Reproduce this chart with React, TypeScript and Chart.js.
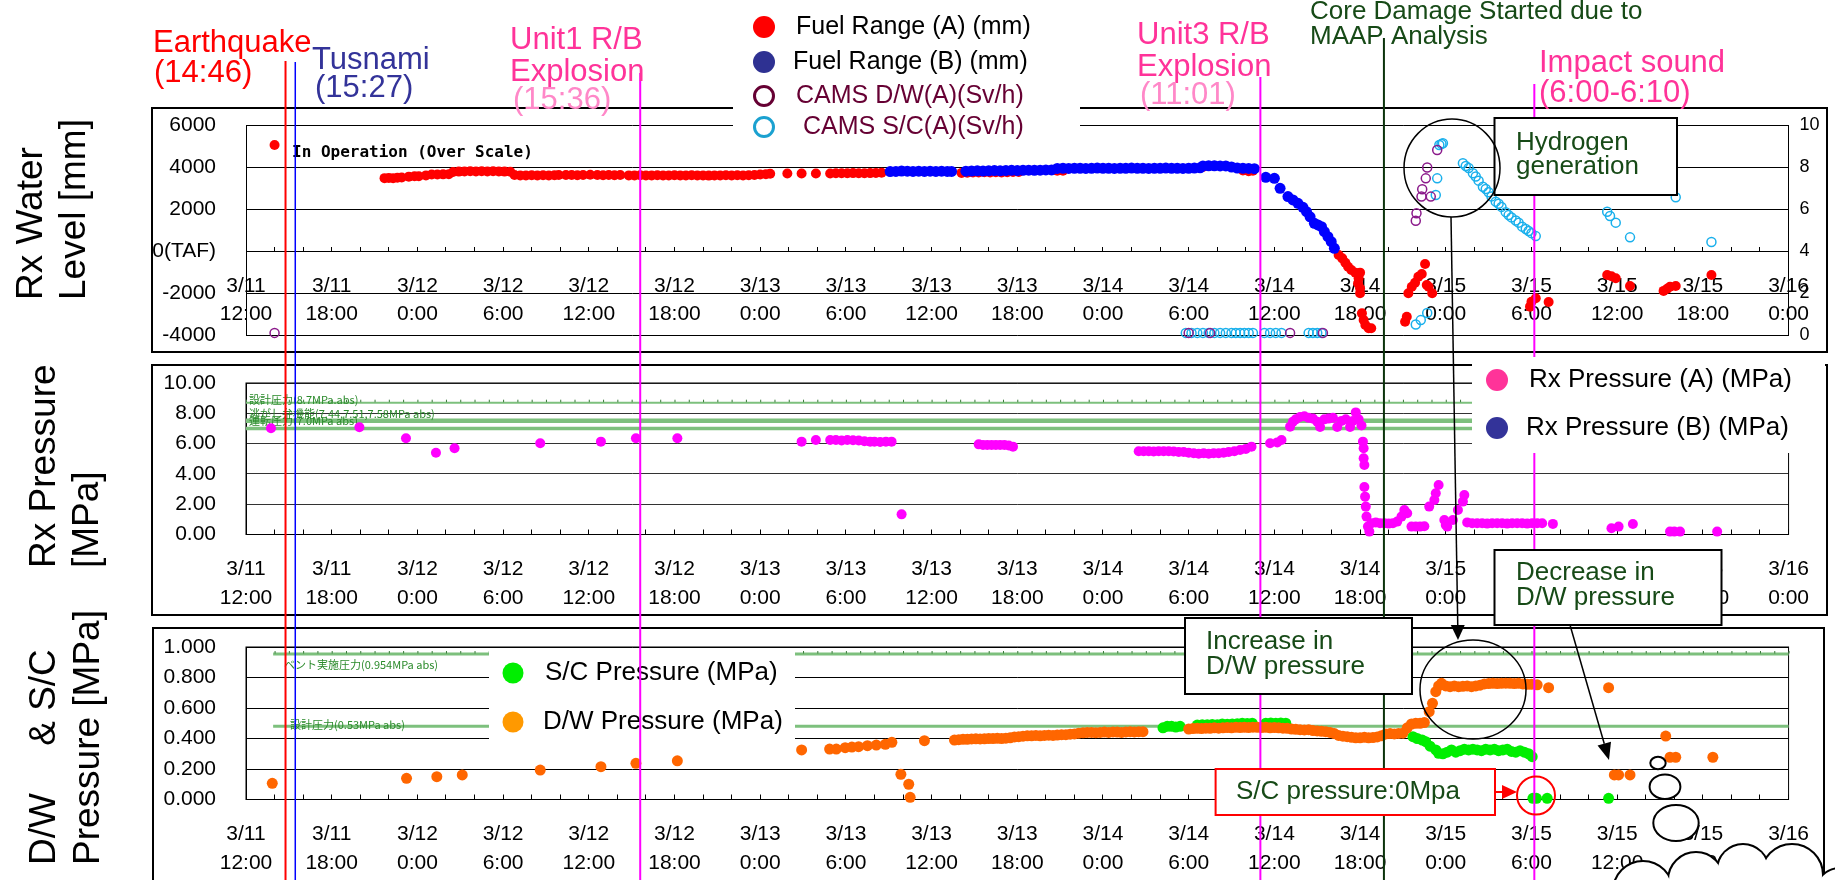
import React, { useEffect, useRef } from 'react';
import { Chart, registerables } from 'chart.js';

Chart.register(...registerables);

const W = 1835;
const H = 880;
const FONT = "'Liberation Sans', Arial, Helvetica, sans-serif";
const JP = "'Noto Sans CJK JP', 'Noto Sans CJK SC', sans-serif";
const MONO = "'DejaVu Sans Mono', 'Liberation Mono', monospace";

// x axis: hours elapsed since 3/11 12:00
const X_MIN = 0;
const X_MAX = 108;
const tickDates = ['3/11', '3/11', '3/12', '3/12', '3/12', '3/12', '3/13', '3/13', '3/13', '3/13', '3/14', '3/14', '3/14', '3/14', '3/15', '3/15', '3/15', '3/15', '3/16'];
const tickTimes = ['12:00', '18:00', '0:00', '6:00', '12:00', '18:00', '0:00', '6:00', '12:00', '18:00', '0:00', '6:00', '12:00', '18:00', '0:00', '6:00', '12:00', '18:00', '0:00'];

// events (hours since 3/11 12:00)
const eventTimes = [2.767, 3.45, 27.6, 71.02, 79.67, 90.2];
const eventColors = ['#ff0000', '#0000ff', '#ff00ff', '#ff00ff', '#0b330b', '#ff00ff'];
const eventWidths = [2, 1.5, 2, 2, 2, 2];
const eventLineTop = [61, 62, 73, 77, 38, 84];

// Rx water level, fuel range A (mm)  [t, value]
const fuelA: number[][] = [
  [2.0, 5050],
  [9.7, 3470], [10.0, 3480], [10.3, 3470], [10.6, 3490], [10.9, 3500],
  [11.4, 3540], [11.8, 3560], [12.1, 3560],
  [12.6, 3600], [13.0, 3640], [13.4, 3640], [13.8, 3650], [14.2, 3660],
  [14.5, 3760], [14.9, 3780], [15.3, 3790], [15.7, 3800], [16.1, 3790], [16.5, 3800], [16.9, 3790], [17.3, 3800], [17.7, 3790], [18.1, 3780], [18.5, 3770],
  [18.8, 3620], [19.2, 3600], [19.6, 3600], [20.0, 3610], [20.4, 3600], [20.8, 3610], [21.2, 3600], [21.6, 3610], [21.9, 3620],
  [22.4, 3620], [22.8, 3620], [23.2, 3610], [23.6, 3620], [24.1, 3630], [24.6, 3620], [25.0, 3610], [25.4, 3620], [25.8, 3610], [26.2, 3620],
  [26.8, 3600], [27.2, 3600], [27.6, 3610], [28.0, 3600], [28.4, 3600], [28.8, 3610], [29.2, 3600], [29.6, 3600], [30.0, 3610], [30.4, 3600], [30.8, 3600], [31.2, 3610], [31.6, 3600],
  [32.0, 3600], [32.4, 3590], [32.8, 3600], [33.2, 3600], [33.6, 3610], [34.0, 3600], [34.4, 3610], [34.8, 3600], [35.2, 3610], [35.6, 3620], [36.0, 3640], [36.4, 3660], [36.7, 3680],
  [37.9, 3690], [38.9, 3690], [39.9, 3690],
  [40.9, 3690], [41.3, 3700], [41.7, 3700], [42.1, 3700], [42.5, 3710], [42.9, 3700], [43.3, 3700], [43.7, 3710], [44.1, 3720], [44.5, 3730],
  [50.1, 3720], [50.5, 3730], [50.9, 3740], [51.3, 3740], [51.7, 3750], [52.1, 3740], [52.5, 3750], [52.9, 3740], [53.3, 3750], [53.7, 3760], [54.1, 3760],
  [56.8, 3820], [57.2, 3820], [67.0, 4000], [69.8, 3830], [70.2, 3800], [70.5, 3820],
  [76.5, -190], [76.75, -350], [76.97, -560], [77.16, -750], [77.39, -905], [77.67, -1030], [78.0, -1030], [77.9, -1300], [77.86, -1540], [78.0, -1775], [78.0, -2015],
  [78.13, -2970], [78.25, -3285], [78.37, -3525], [78.6, -3680], [78.78, -3680],
  [81.15, -3365], [81.27, -3130], [81.38, -2015], [81.62, -1700], [81.85, -1510], [82.08, -1225], [82.32, -1095], [82.55, -620], [82.67, -1620], [82.8, -1700], [83.05, -2015],
  [89.9, -2650], [90.0, -2420], [90.3, -2250], [91.2, -2430],
  [95.3, -1140], [95.6, -1200], [95.9, -1300], [96.9, -1670], [99.25, -1900], [99.5, -1800], [99.7, -1700], [100.1, -1670], [102.6, -1140],
];

// Rx water level, fuel range B (mm)
const fuelB: number[][] = [
  [45.1, 3780], [45.5, 3790], [45.9, 3810], [46.3, 3800], [46.7, 3790], [47.1, 3800], [47.5, 3790], [47.9, 3800], [48.3, 3790], [48.7, 3800], [49.1, 3790], [49.4, 3790],
  [50.4, 3800], [50.8, 3810], [51.2, 3820], [51.6, 3810], [52.0, 3820], [52.4, 3830], [52.8, 3820], [53.2, 3830], [53.6, 3840], [54.0, 3830], [54.4, 3840], [54.8, 3850], [55.2, 3840], [55.6, 3850], [56.0, 3860], [56.4, 3860],
  [56.8, 3930], [57.2, 3940], [57.6, 3930], [58.0, 3940], [58.4, 3940], [58.8, 3930], [59.2, 3940], [59.6, 3950], [60.0, 3940], [60.4, 3940], [60.8, 3930], [61.2, 3940], [61.6, 3940],
  [62.0, 3950], [62.4, 3940], [62.8, 3940], [63.2, 3930], [63.6, 3940], [64.0, 3940], [64.4, 3950], [64.8, 3940], [65.2, 3940], [65.6, 3930], [66.0, 3940], [66.4, 3950], [66.8, 3960],
  [67.0, 4050], [67.4, 4060], [67.8, 4060], [68.2, 4050], [68.6, 4050], [69.0, 4000],
  [69.4, 3950], [69.8, 3940], [70.2, 3930], [70.6, 3920],
  [71.4, 3510], [72.0, 3460], [72.4, 2985], [72.95, 2590], [73.3, 2430], [73.65, 2270], [74.0, 2080], [74.25, 1870], [74.5, 1630], [74.8, 1320],
  [75.05, 1240], [75.3, 1160], [75.5, 920], [75.75, 680], [75.98, 445], [76.2, 130],
];

// CAMS D/W (A) (Sv/h)
const camsDW: number[][] = [
  [2.0, 0.1], [66.0, 0.1], [67.5, 0.1], [73.1, 0.1], [75.4, 0.1],
  [81.9, 5.44], [81.95, 5.8], [82.3, 6.59], [82.35, 6.94], [82.6, 7.46], [82.7, 7.98], [82.95, 6.59], [83.4, 8.81],
];

// CAMS S/C (A) (Sv/h)
const camsSC: number[][] = [
  [65.8, 0.1], [66.2, 0.1], [66.6, 0.1], [67.0, 0.1], [67.4, 0.1], [67.8, 0.1], [68.2, 0.1], [68.6, 0.1], [69.0, 0.1], [69.3, 0.1], [69.6, 0.1], [69.9, 0.1], [70.2, 0.1], [70.5, 0.1],
  [71.3, 0.1], [71.7, 0.1], [72.1, 0.1], [72.5, 0.1],
  [74.4, 0.1], [74.7, 0.1], [75.0, 0.1], [75.3, 0.1],
  [81.9, 0.5], [82.25, 0.71], [82.7, 1.05],
  [83.3, 6.67], [83.4, 7.46], [83.55, 9.05], [83.7, 9.1], [83.8, 9.13],
  [85.2, 8.18], [85.4, 8.05], [85.6, 7.95], [85.9, 7.7], [86.1, 7.55], [86.3, 7.35], [86.6, 7.06], [86.8, 6.95], [87.0, 6.8], [87.2, 6.6], [87.5, 6.35], [87.7, 6.25],
  [87.9, 6.1], [88.2, 5.85], [88.4, 5.71], [88.6, 5.6], [88.9, 5.45], [89.1, 5.35], [89.35, 5.16], [89.6, 5.05], [89.8, 4.95], [90.0, 4.85], [90.3, 4.71],
  [95.3, 5.87], [95.5, 5.67], [95.9, 5.35], [96.9, 4.65], [100.1, 6.56], [102.6, 4.43],
];

// Rx pressure (A) (MPa)
const rxA: number[][] = [
  [1.75, 7.01], [7.94, 7.08], [11.2, 6.35], [13.3, 5.4], [14.6, 5.69], [20.6, 6.02], [24.85, 6.13], [27.3, 6.35], [30.2, 6.35],
  [38.9, 6.13], [39.9, 6.24],
  [40.9, 6.24], [41.3, 6.24], [41.7, 6.2], [42.1, 6.24], [42.5, 6.22], [42.9, 6.2], [43.3, 6.15], [43.7, 6.13], [44.0, 6.13], [44.4, 6.1], [44.8, 6.13], [45.2, 6.13],
  [45.9, 1.33],
  [51.3, 5.95], [51.6, 5.91], [51.9, 5.91], [52.2, 5.91], [52.5, 5.91], [52.8, 5.91], [53.1, 5.91], [53.4, 5.88], [53.7, 5.8],
  [62.5, 5.5], [62.85, 5.5], [63.2, 5.5], [63.55, 5.48], [63.9, 5.5], [64.25, 5.5], [64.6, 5.5], [64.95, 5.48], [65.3, 5.45], [65.65, 5.45],
  [66.0, 5.4], [66.35, 5.36], [66.7, 5.33], [67.05, 5.36], [67.4, 5.33], [67.75, 5.36], [68.1, 5.36], [68.45, 5.4], [68.8, 5.45],
  [69.2, 5.5], [69.6, 5.58], [70.0, 5.65], [70.4, 5.8],
  [71.7, 6.02], [72.2, 6.08], [72.5, 6.24],
  [73.1, 7.12], [73.3, 7.45], [73.5, 7.6], [73.8, 7.75], [74.1, 7.8], [74.4, 7.7], [74.7, 7.65], [75.0, 7.45], [75.2, 7.1], [75.5, 7.6], [75.8, 7.65], [76.1, 7.7],
  [76.4, 7.1], [76.7, 7.5], [77.0, 7.6], [77.3, 7.1], [77.5, 7.5], [77.7, 8.06], [77.9, 7.6], [78.1, 7.2],
  [78.2, 6.13], [78.25, 5.69], [78.25, 5.03], [78.3, 4.59], [78.3, 3.14], [78.35, 2.5], [78.4, 1.84], [78.45, 1.18], [78.55, 0.52], [78.65, 0.19],
  [78.8, 0.74], [79.1, 0.8], [79.4, 0.74], [79.7, 0.74], [80.0, 0.72], [80.3, 0.74], [80.6, 0.85], [80.9, 1.18], [81.1, 1.62], [81.3, 1.4],
  [81.6, 0.52], [81.9, 0.52], [82.2, 0.52], [82.5, 0.55], [82.84, 1.84], [83.2, 2.28], [83.3, 2.72], [83.5, 3.27], [83.9, 0.96], [84.0, 0.63], [84.1, 0.52],
  [84.5, 0.96], [84.85, 1.62], [85.2, 2.17], [85.3, 2.61],
  [85.5, 0.8], [85.85, 0.74], [86.2, 0.74], [86.55, 0.74], [86.9, 0.72], [87.25, 0.74], [87.6, 0.74], [87.95, 0.74], [88.3, 0.72], [88.65, 0.74],
  [89.0, 0.74], [89.35, 0.74], [89.7, 0.72], [90.05, 0.74], [90.4, 0.74], [90.75, 0.74],
  [91.5, 0.7], [95.6, 0.41], [96.1, 0.52], [97.1, 0.69], [99.7, 0.19], [100.0, 0.19], [100.4, 0.19], [103.0, 0.19],
];

// D/W pressure (MPa)
const dwP: number[][] = [
  [1.84, 0.106], [11.24, 0.139], [13.36, 0.15], [15.14, 0.161], [20.6, 0.193], [24.85, 0.215], [27.3, 0.237], [30.2, 0.254], [38.9, 0.325],
  [40.86, 0.331], [41.33, 0.331], [41.95, 0.34], [42.42, 0.344], [42.89, 0.346], [43.51, 0.353], [44.13, 0.357], [44.76, 0.362], [45.22, 0.375],
  [45.85, 0.165], [46.4, 0.1], [46.5, 0.014],
  [47.5, 0.386],
  [49.6, 0.39], [49.9, 0.392], [50.2, 0.395], [50.5, 0.395], [50.8, 0.397], [51.1, 0.398], [51.4, 0.397], [51.7, 0.398], [52.0, 0.4], [52.3, 0.4], [52.6, 0.401], [52.9, 0.4], [53.2, 0.402], [53.5, 0.405],
  [53.8, 0.41], [54.1, 0.412], [54.4, 0.415], [54.7, 0.418], [55.0, 0.418], [55.3, 0.42], [55.6, 0.418], [55.9, 0.42], [56.2, 0.422], [56.5, 0.42], [56.8, 0.423], [57.1, 0.425], [57.4, 0.425], [57.7, 0.428], [58.0, 0.43],
  [58.3, 0.435], [58.6, 0.437], [58.9, 0.44], [59.2, 0.44], [59.5, 0.438], [59.8, 0.44], [60.1, 0.442], [60.4, 0.44], [60.7, 0.443], [61.0, 0.442], [61.3, 0.44], [61.6, 0.443], [61.9, 0.445], [62.2, 0.443], [62.5, 0.445], [62.8, 0.445],
  [66.0, 0.462], [66.3, 0.465], [66.6, 0.467], [66.9, 0.465], [67.2, 0.468], [67.5, 0.467], [67.8, 0.47], [68.1, 0.468], [68.4, 0.47], [68.7, 0.472], [69.0, 0.47], [69.3, 0.473], [69.6, 0.472], [69.9, 0.473], [70.2, 0.472], [70.5, 0.474],
  [70.8, 0.473], [71.1, 0.472], [71.4, 0.473], [71.7, 0.47], [72.0, 0.472], [72.3, 0.47], [72.6, 0.468], [72.9, 0.467], [73.2, 0.462], [73.5, 0.46], [73.8, 0.458], [74.1, 0.456], [74.4, 0.458], [74.7, 0.452], [75.0, 0.45], [75.3, 0.447], [75.6, 0.445], [75.9, 0.44], [76.2, 0.432],
  [76.5, 0.42], [76.8, 0.415], [77.1, 0.412], [77.4, 0.408], [77.7, 0.405], [78.0, 0.405], [78.3, 0.408], [78.6, 0.405], [78.9, 0.406], [79.2, 0.41], [79.5, 0.418], [79.8, 0.43], [80.1, 0.432], [80.4, 0.43], [80.7, 0.433], [81.0, 0.435],
  [81.3, 0.47], [81.6, 0.495], [81.9, 0.5], [82.2, 0.5], [82.5, 0.505],
  [82.84, 0.576], [83.07, 0.631], [83.3, 0.707], [83.5, 0.745], [83.7, 0.762],
  [84.0, 0.745], [84.3, 0.74], [84.6, 0.745], [84.9, 0.74], [85.2, 0.742], [85.5, 0.745], [85.8, 0.74], [86.1, 0.745], [86.4, 0.75], [86.7, 0.758], [87.0, 0.76], [87.3, 0.762],
  [87.6, 0.76], [87.9, 0.762], [88.2, 0.763], [88.5, 0.762], [88.8, 0.76], [89.1, 0.762], [89.4, 0.758], [89.7, 0.755], [90.0, 0.755], [90.4, 0.752],
  [91.2, 0.733], [95.4, 0.733], [95.8, 0.161], [96.1, 0.161], [96.9, 0.161], [99.4, 0.416], [99.7, 0.277], [100.1, 0.277], [102.7, 0.277],
];

// S/C pressure (MPa)
const scP: number[][] = [
  [64.2, 0.47], [64.5, 0.48], [64.8, 0.48], [65.1, 0.475], [65.4, 0.48],
  [66.6, 0.488], [66.95, 0.49], [67.3, 0.49], [67.65, 0.492], [68.0, 0.49], [68.35, 0.495], [68.7, 0.493], [69.05, 0.495], [69.4, 0.497], [69.75, 0.5], [70.1, 0.498], [70.45, 0.5],
  [71.4, 0.5], [71.75, 0.502], [72.1, 0.5], [72.45, 0.502], [72.8, 0.5],
  [81.7, 0.412], [82.0, 0.4], [82.35, 0.39], [82.6, 0.379], [82.9, 0.35], [83.3, 0.325], [83.5, 0.303], [83.8, 0.3], [84.1, 0.31], [84.4, 0.325], [84.7, 0.31], [85.0, 0.32],
  [85.3, 0.33], [85.6, 0.325], [85.9, 0.33], [86.2, 0.325], [86.5, 0.32], [86.8, 0.33], [87.1, 0.325], [87.4, 0.33], [87.7, 0.32], [88.0, 0.325], [88.3, 0.33], [88.6, 0.315],
  [88.9, 0.31], [89.2, 0.32], [89.5, 0.31], [89.8, 0.3], [90.05, 0.281],
  [90.1, 0.008], [90.35, 0.008], [91.1, 0.008], [95.4, 0.008],
];

// reference pressure lines
const midRefValues = [8.7, 7.44, 7.51, 7.58, 7.0];
const midRefWidths = [2, 2.5, 2.5, 2.5, 3.5];
const midRefLabels = ['設計圧力(8.7MPa.abs)', '逃がし弁機能(7.44,7.51,7.58MPa abs)', '運転圧力(7.0MPa abs)'];
const botRefValues = [0.954, 0.48];
const botRefLabels = ['ベント実施圧力(0.954MPa abs)', '設計圧力(0.53MPa abs)'];

const PLOT_LEFT = 246;
const PLOT_RIGHT = 1795;
const X_AXIS_H = 80;

const xTickValues: number[] = [];
for (let h = X_MIN; h <= X_MAX; h += 2) xTickValues.push(h);

const toXY = (arr: number[][]) => arr.map(([x, y]) => ({ x, y }));

function xAxis(position: any, fitHeight: number) {
  return {
    type: 'linear',
    min: X_MIN,
    max: X_MAX,
    position,
    afterBuildTicks: (s: any) => { s.ticks = xTickValues.map((v) => ({ value: v })); },
    grid: { drawOnChartArea: false, drawTicks: true, tickLength: -5, tickColor: '#000', tickWidth: 1, color: '#000' },
    border: { display: true, color: '#000', width: 1 },
    ticks: {
      autoSkip: false,
      maxRotation: 0,
      minRotation: 0,
      padding: 26,
      color: '#000',
      font: { family: FONT, size: 21, lineHeight: 1.35 },
      callback: (v: any) => {
        const h = Math.round(Number(v));
        if (h % 6 !== 0) return '';
        const k = h / 6;
        return [tickDates[k], tickTimes[k]];
      },
    },
    afterFit: (s: any) => { s.height = fitHeight; },
  };
}

function yAxis(min: number, max: number, step: number, fmt: (v: number) => string, gridColor: string) {
  return {
    type: 'linear',
    position: 'left',
    min,
    max,
    ticks: { stepSize: step, padding: 30, color: '#000', font: { family: FONT, size: 21 }, callback: (v: any) => fmt(Number(v)) },
    grid: { color: gridColor, lineWidth: 1, drawTicks: false },
    border: { display: true, color: '#000', width: 1 },
    afterFit: (s: any) => { s.width = PLOT_LEFT; },
  };
}

function outerBox(x: number, y: number, w: number, h: number) {
  return (chart: any) => {
    const ctx = chart.ctx;
    ctx.save();
    ctx.strokeStyle = '#000';
    ctx.lineWidth = 2;
    ctx.strokeRect(x, y, w, h);
    ctx.restore();
  };
}

function plotBorder(chart: any) {
  const { ctx, chartArea: a } = chart;
  ctx.save();
  ctx.strokeStyle = '#000';
  ctx.lineWidth = 1;
  ctx.strokeRect(a.left, a.top, a.right - a.left, a.bottom - a.top);
  ctx.restore();
}

function refLine(chart: any, value: number, width: number, fromHour: number) {
  const { ctx } = chart;
  const xs = chart.scales.x;
  const ys = chart.scales.y;
  const y = ys.getPixelForValue(value);
  const x0 = xs.getPixelForValue(fromHour);
  const x1 = xs.getPixelForValue(X_MAX);
  ctx.save();
  ctx.strokeStyle = 'rgb(125,192,125)';
  ctx.lineWidth = width;
  ctx.beginPath();
  ctx.moveTo(x0, y);
  ctx.lineTo(x1, y);
  ctx.stroke();
  ctx.restore();
}

function refTicks(chart: any, value: number, fromHour: number) {
  const { ctx } = chart;
  const xs = chart.scales.x;
  const y = chart.scales.y.getPixelForValue(value);
  ctx.save();
  ctx.strokeStyle = '#3a7a3a';
  ctx.lineWidth = 1;
  ctx.beginPath();
  for (let h = Math.ceil(fromHour); h <= X_MAX; h += 1) {
    const x = xs.getPixelForValue(h) + 0.5;
    ctx.moveTo(x, y - 3);
    ctx.lineTo(x, y - 0.5);
  }
  ctx.stroke();
  ctx.restore();
}

function smallText(ctx: CanvasRenderingContext2D, s: string, x: number, y: number) {
  ctx.save();
  ctx.font = `11px ${JP}`;
  ctx.fillStyle = '#2a8a2a';
  ctx.textAlign = 'left';
  ctx.textBaseline = 'alphabetic';
  ctx.fillText(s, x, y);
  ctx.restore();
}

function baseOptions(padding: any, scales: any) {
  return {
    responsive: false,
    maintainAspectRatio: false,
    animation: false,
    devicePixelRatio: 1,
    events: [],
    layout: { padding },
    plugins: { legend: { display: false }, tooltip: { enabled: false }, title: { display: false } },
    scales,
  };
}

function topConfig(): any {
  return {
    type: 'scatter',
    data: {
      datasets: [
        { label: 'CAMS D/W(A)(Sv/h)', data: toXY(camsDW), yAxisID: 'y2', pointRadius: 4.5, pointBackgroundColor: 'rgba(0,0,0,0)', pointBorderColor: '#8b1a8b', pointBorderWidth: 1.5, order: -1, clip: false },
        { label: 'CAMS S/C(A)(Sv/h)', data: toXY(camsSC), yAxisID: 'y2', pointRadius: 4.5, pointBackgroundColor: 'rgba(0,0,0,0)', pointBorderColor: '#1ab0ec', pointBorderWidth: 1.5, order: 0, clip: false },
        { label: 'Fuel Range (B) (mm)', data: toXY(fuelB), yAxisID: 'y', pointRadius: 5.5, pointBackgroundColor: '#0000ff', pointBorderWidth: 0, order: 1, clip: false },
        { label: 'Fuel Range (A) (mm)', data: toXY(fuelA), yAxisID: 'y', pointRadius: 5, pointBackgroundColor: '#ff0000', pointBorderWidth: 0, order: 2, clip: false },
      ],
    },
    options: baseOptions(
      { left: 0, right: 0, top: 125, bottom: H - 335 },
      {
        x: xAxis({ y: 0 }, 0),
        y: yAxis(-4000, 6000, 2000, (v) => (v === 0 ? '0(TAF)' : String(v)), '#000'),
        y2: {
          type: 'linear',
          position: 'right',
          min: 0,
          max: 10,
          ticks: { stepSize: 2, padding: 11, color: '#000', font: { family: FONT, size: 18 } },
          grid: { drawOnChartArea: false, drawTicks: false },
          border: { display: true, color: '#000', width: 1 },
          afterFit: (s: any) => { s.width = W - PLOT_RIGHT; },
        },
      }
    ),
    plugins: [
      {
        id: 'topDecor',
        beforeDraw: outerBox(152, 108, 1675, 244),
        afterDatasetsDraw: (chart: any) => {
          const ctx = chart.ctx;
          ctx.save();
          ctx.font = `bold 16px ${MONO}`;
          ctx.fillStyle = '#000';
          ctx.textBaseline = 'middle';
          ctx.fillText('In Operation (Over Scale)', 292, 153);
          ctx.restore();
        },
      },
    ],
  };
}

function midConfig(): any {
  return {
    type: 'scatter',
    data: {
      datasets: [
        { label: 'Rx Pressure (A) (MPa)', data: toXY(rxA), pointRadius: 5, pointBackgroundColor: '#ff00ff', pointBorderWidth: 0, clip: false },
      ],
    },
    options: baseOptions(
      { left: 0, right: W - PLOT_RIGHT, top: 383, bottom: H - 534.5 - X_AXIS_H },
      {
        x: xAxis('bottom', X_AXIS_H),
        y: yAxis(0, 10, 2, (v) => v.toFixed(2), '#333'),
      }
    ),
    plugins: [
      {
        id: 'midDecor',
        beforeDraw: outerBox(152, 365, 1675, 250),
        beforeDatasetsDraw: (chart: any) => {
          plotBorder(chart);
          midRefValues.forEach((v, i) => refLine(chart, v, midRefWidths[i], X_MIN));
          refTicks(chart, midRefValues[0], X_MIN);
          const ys = chart.scales.y;
          const x = chart.chartArea.left + 3;
          smallText(chart.ctx, midRefLabels[0], x, ys.getPixelForValue(midRefValues[0]) + 1);
          smallText(chart.ctx, midRefLabels[1], x, ys.getPixelForValue(midRefValues[3]) - 2);
          smallText(chart.ctx, midRefLabels[2], x, ys.getPixelForValue(midRefValues[4]) - 3);
        },
      },
    ],
  };
}

function botConfig(): any {
  return {
    type: 'scatter',
    data: {
      datasets: [
        { label: 'D/W Pressure (MPa)', data: toXY(dwP), pointRadius: 5.5, pointBackgroundColor: '#ff6600', pointBorderWidth: 0, order: 1, clip: false },
        { label: 'S/C Pressure (MPa)', data: toXY(scP), pointRadius: 5.5, pointBackgroundColor: '#00ee00', pointBorderWidth: 0, order: 2, clip: false },
      ],
    },
    options: baseOptions(
      { left: 0, right: W - PLOT_RIGHT, top: 647, bottom: H - 799.5 - X_AXIS_H },
      {
        x: xAxis('bottom', X_AXIS_H),
        y: yAxis(0, 1, 0.2, (v) => v.toFixed(3), '#000'),
      }
    ),
    plugins: [
      {
        id: 'botDecor',
        beforeDraw: outerBox(153, 628, 1671, 262),
        beforeDatasetsDraw: (chart: any) => {
          plotBorder(chart);
          botRefValues.forEach((v) => refLine(chart, v, 3, 1.9));
          refTicks(chart, botRefValues[0], 1.9);
          const ys = chart.scales.y;
          smallText(chart.ctx, botRefLabels[0], 284, ys.getPixelForValue(botRefValues[0]) + 15);
          smallText(chart.ctx, botRefLabels[1], 290, ys.getPixelForValue(botRefValues[1]) + 3);
        },
      },
    ],
  };
}

// ---------- overlay drawing helpers ----------
function txt(ctx: CanvasRenderingContext2D, s: string, x: number, y: number, size: number, color: string, family = FONT) {
  ctx.font = `${size}px ${family}`;
  ctx.fillStyle = color;
  ctx.textAlign = 'left';
  ctx.textBaseline = 'middle';
  ctx.fillText(s, x, y);
}

function dot(ctx: CanvasRenderingContext2D, x: number, y: number, r: number, color: string) {
  ctx.beginPath();
  ctx.arc(x, y, r, 0, Math.PI * 2);
  ctx.fillStyle = color;
  ctx.fill();
}

function ring(ctx: CanvasRenderingContext2D, x: number, y: number, r: number, color: string, lw: number) {
  ctx.beginPath();
  ctx.arc(x, y, r, 0, Math.PI * 2);
  ctx.strokeStyle = color;
  ctx.lineWidth = lw;
  ctx.stroke();
}

function whiteRect(ctx: CanvasRenderingContext2D, x: number, y: number, w: number, h: number) {
  ctx.fillStyle = '#fff';
  ctx.fillRect(x, y, w, h);
}

function callout(ctx: CanvasRenderingContext2D, x: number, y: number, w: number, h: number, border: string, lines: string[], tx: number, ty: number[]) {
  ctx.fillStyle = '#fff';
  ctx.fillRect(x, y, w, h);
  ctx.strokeStyle = border;
  ctx.lineWidth = 2;
  ctx.strokeRect(x, y, w, h);
  lines.forEach((l, i) => txt(ctx, l, tx, ty[i], 26, '#174a17'));
}

function ellipse(ctx: CanvasRenderingContext2D, cx: number, cy: number, rx: number, ry: number, color: string, lw: number, fill?: string) {
  ctx.beginPath();
  ctx.ellipse(cx, cy, rx, ry, 0, 0, Math.PI * 2);
  if (fill) {
    ctx.fillStyle = fill;
    ctx.fill();
  }
  ctx.strokeStyle = color;
  ctx.lineWidth = lw;
  ctx.stroke();
}

function arrow(ctx: CanvasRenderingContext2D, x1: number, y1: number, x2: number, y2: number, color: string, headLen: number, headHalf: number, lw: number) {
  const ang = Math.atan2(y2 - y1, x2 - x1);
  const bx = x2 - headLen * Math.cos(ang);
  const by = y2 - headLen * Math.sin(ang);
  ctx.strokeStyle = color;
  ctx.lineWidth = lw;
  ctx.beginPath();
  ctx.moveTo(x1, y1);
  ctx.lineTo(bx, by);
  ctx.stroke();
  ctx.fillStyle = color;
  ctx.beginPath();
  ctx.moveTo(x2, y2);
  ctx.lineTo(bx + headHalf * Math.sin(ang), by - headHalf * Math.cos(ang));
  ctx.lineTo(bx - headHalf * Math.sin(ang), by + headHalf * Math.cos(ang));
  ctx.closePath();
  ctx.fill();
}

function vtext(ctx: CanvasRenderingContext2D, s: string, xBase: number, yStart: number, size: number) {
  ctx.save();
  ctx.translate(xBase, yStart);
  ctx.rotate(-Math.PI / 2);
  ctx.font = `${size}px ${FONT}`;
  ctx.fillStyle = '#000';
  ctx.textAlign = 'left';
  ctx.textBaseline = 'alphabetic';
  ctx.fillText(s, 0, 0);
  ctx.restore();
}

function drawOverlay(cv: HTMLCanvasElement, topChart: any) {
  const ctx = cv.getContext('2d');
  if (!ctx) return;
  ctx.clearRect(0, 0, W, H);
  const xs = topChart.scales.x;

  // axis titles
  vtext(ctx, 'Rx Water', 42, 300, 37);
  vtext(ctx, 'Level [mm]', 85, 300, 37);
  vtext(ctx, 'Rx Pressure', 55, 568, 37);
  vtext(ctx, '[MPa]', 98, 568, 37);
  vtext(ctx, 'D/W\u3000 & S/C', 55, 865, 37);
  vtext(ctx, 'Pressure [MPa]', 99, 865, 37);

  // bottom legend (under the event lines)
  whiteRect(ctx, 489, 650, 306, 95);
  dot(ctx, 513, 673, 10.5, '#00ee00');
  txt(ctx, 'S/C Pressure (MPa)', 545, 673, 26, '#000');
  dot(ctx, 513, 722, 10.5, '#ff9900');
  txt(ctx, 'D/W Pressure (MPa)', 543, 722, 26, '#000');

  // event lines
  eventTimes.forEach((t, i) => {
    const x = xs.getPixelForValue(t);
    ctx.strokeStyle = eventColors[i];
    ctx.lineWidth = eventWidths[i];
    ctx.beginPath();
    ctx.moveTo(x, eventLineTop[i]);
    ctx.lineTo(x, H);
    ctx.stroke();
  });

  // event labels
  txt(ctx, 'Earthquake', 153, 43, 31, '#ff0000');
  txt(ctx, '(14:46)', 154, 73, 31, '#ff0000');
  txt(ctx, 'Tusnami', 312, 60, 31, '#333399');
  txt(ctx, '(15:27)', 315, 88, 31, '#333399');
  txt(ctx, 'Unit1 R/B', 510, 40, 31, '#ff3399');
  txt(ctx, 'Explosion', 510, 72, 31, '#ff3399');
  txt(ctx, '(15:36)', 513, 100, 31, '#ff88c8');
  txt(ctx, 'Unit3 R/B', 1137, 35, 31, '#ff3399');
  txt(ctx, 'Explosion', 1137, 67, 31, '#ff3399');
  txt(ctx, '(11:01)', 1140, 95, 31, '#ff88c8');
  txt(ctx, 'Core Damage Started due to', 1310, 12, 26, '#174a17');
  txt(ctx, 'MAAP Analysis', 1310, 37, 26, '#174a17');
  txt(ctx, 'Impact sound', 1539, 63, 31, '#ff3399');
  txt(ctx, '(6:00-6:10)', 1539, 93, 31, '#ff3399');

  // top legend
  whiteRect(ctx, 733, 0, 347, 137);
  dot(ctx, 764, 27, 11, '#ff0000');
  txt(ctx, 'Fuel Range (A) (mm)', 796, 27, 25, '#000');
  dot(ctx, 764, 62, 11, '#2e3192');
  txt(ctx, 'Fuel Range (B) (mm)', 793, 62, 25, '#000');
  ring(ctx, 764, 96, 9.5, '#660033', 3);
  txt(ctx, 'CAMS D/W(A)(Sv/h)', 796, 96, 25, '#660033');
  ring(ctx, 764, 127, 9.5, '#1ba1d0', 3);
  txt(ctx, 'CAMS S/C(A)(Sv/h)', 803, 127, 25, '#660033');

  // middle legend
  whiteRect(ctx, 1472, 357, 353, 96);
  dot(ctx, 1497, 380, 11, '#ff3399');
  txt(ctx, 'Rx Pressure (A) (MPa)', 1529, 380, 26, '#000');
  dot(ctx, 1497, 428, 11, '#333399');
  txt(ctx, 'Rx Pressure (B) (MPa)', 1526, 428, 26, '#000');

  // callouts
  callout(ctx, 1494.5, 118, 182.5, 77, '#000', ['Hydrogen', 'generation'], 1516, [143, 167]);
  callout(ctx, 1494.5, 550, 227, 75, '#000', ['Decrease in', 'D/W pressure'], 1516, [573, 598]);
  callout(ctx, 1185, 618, 227, 76, '#000', ['Increase in', 'D/W pressure'], 1206, [642, 667]);
  callout(ctx, 1215.6, 769, 279.4, 46, '#ff0000', ['S/C pressure:0Mpa'], 1236, [792]);

  // circles and arrows
  ellipse(ctx, 1452, 168, 48, 49, '#000', 1.5);
  ellipse(ctx, 1473, 689.5, 53, 49.5, '#000', 1.5);
  ellipse(ctx, 1536, 795.5, 19, 19, '#ff0000', 2);
  arrow(ctx, 1451, 217, 1458, 640, '#000', 15, 7, 1.5);
  arrow(ctx, 1570, 625, 1609, 760, '#000', 17, 7, 1.5);
  arrow(ctx, 1495, 792, 1517, 792, '#ff0000', 15, 7, 2);

  // thought bubbles + cloud
  ellipse(ctx, 1658, 763, 7.7, 6.2, '#000', 2, '#fff');
  ellipse(ctx, 1665, 786.7, 15.4, 12.3, '#000', 2, '#fff');
  ellipse(ctx, 1676, 823, 22.7, 18, '#000', 2, '#fff');
  const bumps = [[1643, 891, 29], [1696, 880, 27], [1743, 870, 25], [1792, 875, 30], [1840, 893, 24]];
  ctx.strokeStyle = '#000';
  ctx.lineWidth = 4;
  bumps.forEach(([cx, cy, r]) => { ctx.beginPath(); ctx.arc(cx, cy, r, 0, Math.PI * 2); ctx.stroke(); });
  ctx.fillStyle = '#fff';
  bumps.forEach(([cx, cy, r]) => { ctx.beginPath(); ctx.arc(cx, cy, r, 0, Math.PI * 2); ctx.fill(); });
  ctx.fillRect(1625, 886, 220, 10);
}

export default function App() {
  const topRef = useRef<HTMLCanvasElement>(null);
  const midRef = useRef<HTMLCanvasElement>(null);
  const botRef = useRef<HTMLCanvasElement>(null);
  const ovRef = useRef<HTMLCanvasElement>(null);

  useEffect(() => {
    const charts: any[] = [];
    if (topRef.current && midRef.current && botRef.current) {
      charts.push(new Chart(topRef.current, topConfig()));
      charts.push(new Chart(midRef.current, midConfig()));
      charts.push(new Chart(botRef.current, botConfig()));
      if (ovRef.current) drawOverlay(ovRef.current, charts[0]);
    }
    return () => {
      charts.forEach((c) => c.destroy());
    };
  }, []);

  const cs: React.CSSProperties = { position: 'absolute', left: 0, top: 0, width: W, height: H };
  return (
    <div style={{ position: 'absolute', left: 0, top: 0, width: W, height: H, background: '#fff', overflow: 'hidden' }}>
      <canvas ref={topRef} width={W} height={H} style={cs} />
      <canvas ref={midRef} width={W} height={H} style={cs} />
      <canvas ref={botRef} width={W} height={H} style={cs} />
      <canvas ref={ovRef} width={W} height={H} style={{ ...cs, pointerEvents: 'none' }} />
    </div>
  );
}
